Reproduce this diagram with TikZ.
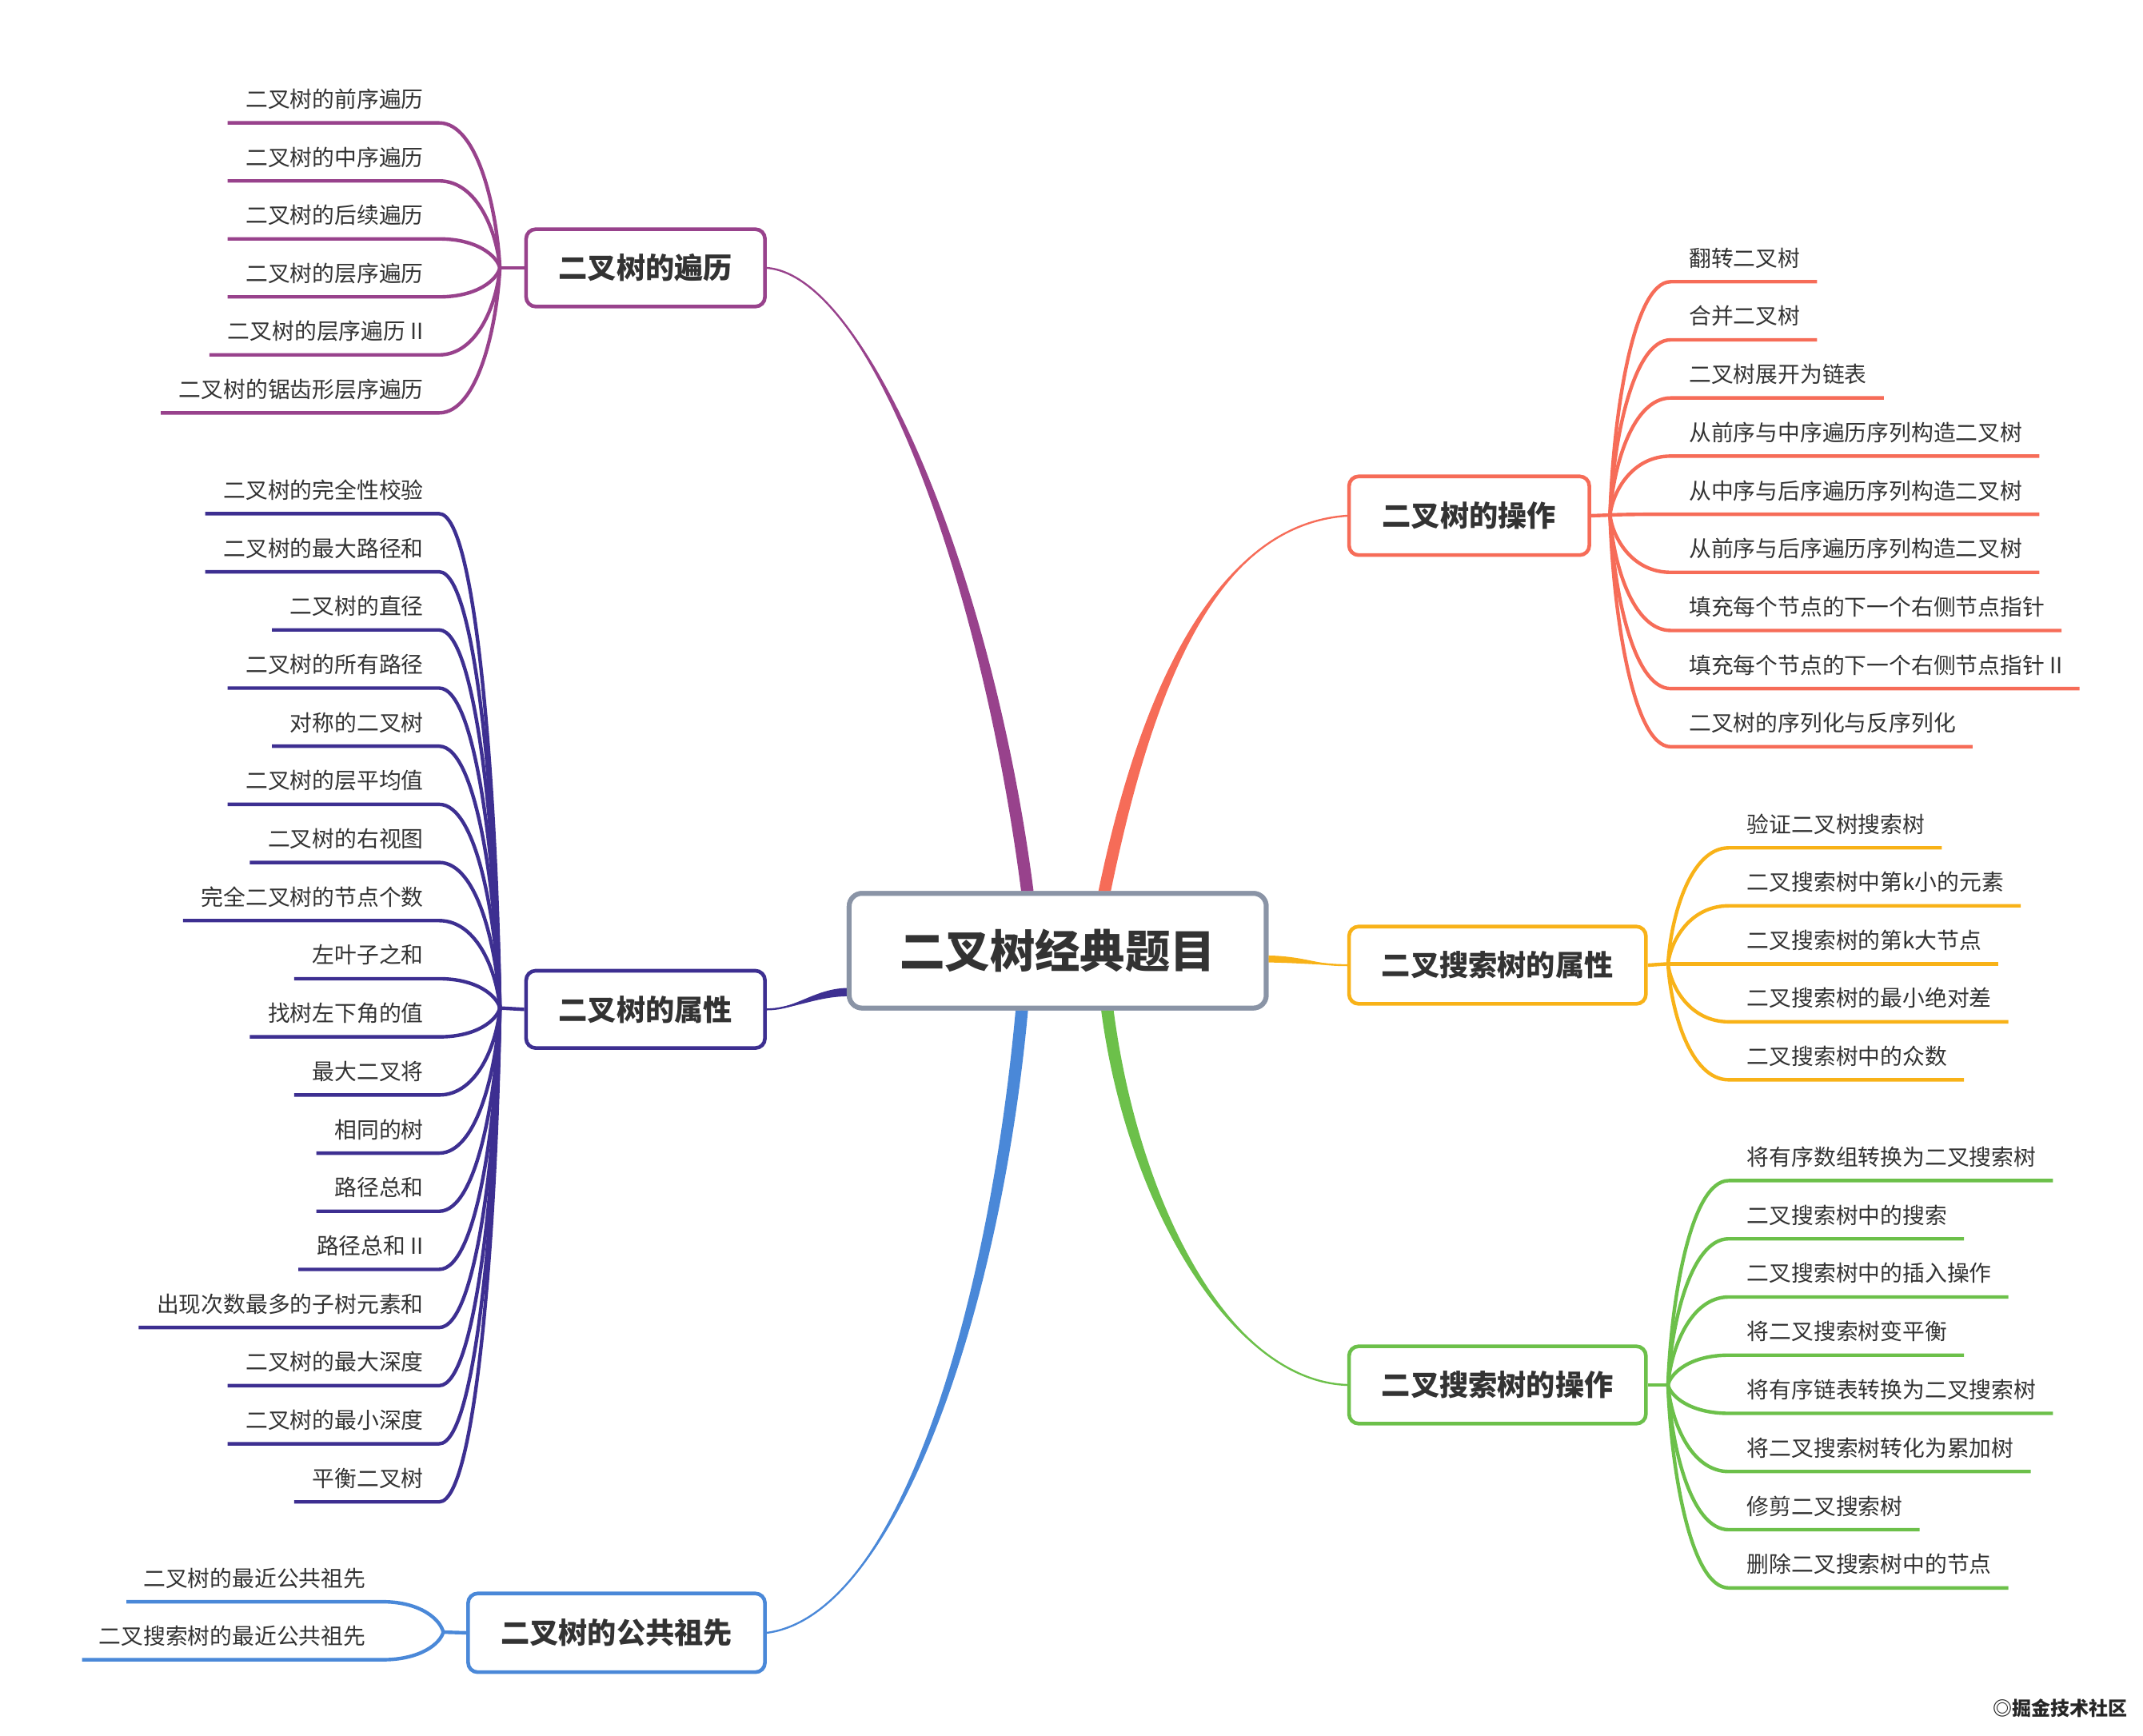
\documentclass[tikz,border=0pt]{standalone}
\usepackage{fontspec}
\setmainfont{Noto Sans CJK SC}
\usetikzlibrary{calc}
\definecolor{cPur}{RGB}{152,66,140}
\definecolor{cNav}{RGB}{61,47,145}
\definecolor{cBlu}{RGB}{74,136,216}
\definecolor{cCor}{RGB}{246,108,88}
\definecolor{cAmb}{RGB}{248,178,24}
\definecolor{cGrn}{RGB}{108,192,74}
\definecolor{cRoot}{RGB}{138,148,166}
\definecolor{txt}{RGB}{51,51,51}
\def\myu{0.8635pt}
\tikzset{
  leaf/.style={font=\fontsize{13.9}{16}\selectfont, text=txt, inner sep=0pt},
  topic/.style={draw=#1, line width=2.3pt, rounded corners=6pt, fill=white,
    font=\fontsize{18.1}{22}\selectfont\bfseries, text=txt, inner sep=0pt},
  leafline/.style={draw=#1, line width=2.2pt},
}
\newcommand\taper[6]{%
  \fill[#1] ($(#2)+(#3)$) .. controls ($#4+(#3)$) and #5 .. (#6)
     .. controls #5 and ($#4-(#3)$) .. ($(#2)-(#3)$) -- cycle;
  \draw[#1, line width=1.2pt] (#2) .. controls #4 and #5 .. (#6);
}
\begin{document}
\begin{tikzpicture}[x=0.8635pt, y=-0.8635pt]
\useasboundingbox (0,0) rectangle (1552,1257);

% root
\node[draw=cRoot, line width=3pt, rounded corners=8pt, fill=white, inner sep=0pt,
  minimum width=302*\myu, minimum height=83*\myu,
  font=\fontsize{28.2}{32}\selectfont\bfseries, text=txt] (root) at (766,688.5) {二叉树经典题目};

% topic boxes
\node[topic=cPur, minimum width=173*\myu, minimum height=56*\myu] (t1) at (467.5,194) {二叉树的遍历};
\node[topic=cNav, minimum width=173*\myu, minimum height=56*\myu] (t2) at (467.5,731) {二叉树的属性};
\node[topic=cBlu, minimum width=215*\myu, minimum height=57*\myu] (t3) at (446.5,1182.5) {二叉树的公共祖先};
\node[topic=cCor, minimum width=174*\myu, minimum height=57*\myu] (t4) at (1064,373.5) {二叉树的操作};
\node[topic=cAmb, minimum width=215*\myu, minimum height=56*\myu] (t5) at (1084.5,699) {二叉搜索树的属性};
\node[topic=cGrn, minimum width=215*\myu, minimum height=56*\myu] (t6) at (1084.5,1003) {二叉搜索树的操作};

% main tapered connectors
\coordinate (a1) at ($(root.north)+(-22,0)$);
\coordinate (a4) at ($(root.north)+(34,0)$);
\coordinate (a3) at ($(root.south)+(-26,0)$);
\coordinate (a6) at ($(root.south)+(36,0)$);
\coordinate (a2) at ($(root.west)+(0,30)$);
\coordinate (a5) at ($(root.east)+(0,6)$);
\begin{scope}[on background layer/.style={}]
\taper{cPur}{a1}{4.5,0}{(715,420)}{(630,200)}{t1.east}
\taper{cCor}{a4}{4.5,0}{(830,500)}{(880,380)}{t4.west}
\taper{cBlu}{a3}{4.5,0}{(720,950)}{(650,1170)}{t3.east}
\taper{cGrn}{a6}{4.5,0}{(820,870)}{(890,1000)}{t6.west}
\taper{cNav}{a2}{0,3}{(590,719)}{(575,731)}{t2.east}
\taper{cAmb}{a5}{0,2.5}{(945,695)}{(955,699)}{t5.west}
\end{scope}
\node[draw=cRoot, line width=3pt, rounded corners=8pt, fill=white, inner sep=0pt,
  minimum width=302*\myu, minimum height=83*\myu,
  font=\fontsize{28.2}{32}\selectfont\bfseries, text=txt] (rootb) at (766,688.5) {二叉树经典题目};

% ---------- purple leaves ----------
\coordinate (pJ) at (362,194);
\draw[leafline=cPur] (pJ) -- (t1.west);
\foreach \t [count=\i from 0] in {二叉树的前序遍历,二叉树的中序遍历,二叉树的后续遍历,二叉树的层序遍历,二叉树的层序遍历 II,二叉树的锯齿形层序遍历}{
  \pgfmathsetmacro\yl{89+42*\i}
  \pgfmathsetmacro\cy{194-0.4*(194-\yl)}
  \node[leaf, anchor=base east] (p\i) at (307,\yl-11) {\t};
  \draw[leafline=cPur] ($(p\i.base west)+(-13,11)$) -- ($(p\i.base east)+(11,11)$)
     .. controls +(28,0) and (360,\cy) .. (pJ);
}

% ---------- navy leaves ----------
\coordinate (nJ) at (362,730);
\draw[leafline=cNav] (nJ) -- (t2.west);
\foreach \t [count=\i from 0] in {二叉树的完全性校验,二叉树的最大路径和,二叉树的直径,二叉树的所有路径,对称的二叉树,二叉树的层平均值,二叉树的右视图,完全二叉树的节点个数,左叶子之和,找树左下角的值,最大二叉将,相同的树,路径总和,路径总和 II,出现次数最多的子树元素和,二叉树的最大深度,二叉树的最小深度,平衡二叉树}{
  \pgfmathsetmacro\yl{372+42.1*\i}
  \pgfmathsetmacro\cy{730-0.4*(730-\yl)}
  \node[leaf, anchor=base east] (n\i) at (307,\yl-11) {\t};
  \draw[leafline=cNav] ($(n\i.base west)+(-13,11)$) -- ($(n\i.base east)+(11,11)$)
     .. controls +(28,0) and (360,\cy) .. (nJ);
}

% ---------- blue leaves ----------
\coordinate (bJ) at (321,1182);
\draw[leafline=cBlu] (bJ) -- (t3.west);
\foreach \t [count=\i from 0] in {二叉树的最近公共祖先,二叉搜索树的最近公共祖先}{
  \pgfmathsetmacro\yl{1160+42*\i}
  \pgfmathsetmacro\cy{1182-0.4*(1182-\yl)}
  \node[leaf, anchor=base east] (b\i) at (265,\yl-11) {\t};
  \draw[leafline=cBlu] ($(b\i.base west)+(-12,11)$) -- ($(b\i.base east)+(12,11)$)
     .. controls +(28,0) and (319,\cy) .. (bJ);
}

% ---------- coral leaves ----------
\coordinate (oJ) at (1166,373);
\draw[leafline=cCor] (t4.east) -- (oJ);
\foreach \t [count=\i from 0] in {翻转二叉树,合并二叉树,二叉树展开为链表,从前序与中序遍历序列构造二叉树,从中序与后序遍历序列构造二叉树,从前序与后序遍历序列构造二叉树,填充每个节点的下一个右侧节点指针,填充每个节点的下一个右侧节点指针 II,二叉树的序列化与反序列化}{
  \pgfmathsetmacro\yl{204+42.1*\i}
  \pgfmathsetmacro\cy{373-0.4*(373-\yl)}
  \node[leaf, anchor=base west] (o\i) at (1223,\yl-11) {\t};
  \draw[leafline=cCor] (oJ) .. controls (1168,\cy) and +(-28,0) .. ($(o\i.base west)+(-13,11)$)
     -- ($(o\i.base east)+(12,11)$);
}

% ---------- amber leaves ----------
\coordinate (aJ) at (1208,698);
\draw[leafline=cAmb] (t5.east) -- (aJ);
\foreach \t [count=\i from 0] in {验证二叉树搜索树,二叉搜索树中第k小的元素,二叉搜索树的第k大节点,二叉搜索树的最小绝对差,二叉搜索树中的众数}{
  \pgfmathsetmacro\yl{614+42*\i}
  \pgfmathsetmacro\cy{698-0.4*(698-\yl)}
  \node[leaf, anchor=base west] (m\i) at (1265,\yl-11) {\t};
  \draw[leafline=cAmb] (aJ) .. controls (1210,\cy) and +(-28,0) .. ($(m\i.base west)+(-13,11)$)
     -- ($(m\i.base east)+(12,11)$);
}

% ---------- green leaves ----------
\coordinate (gJ) at (1208,1003);
\draw[leafline=cGrn] (t6.east) -- (gJ);
\foreach \t [count=\i from 0] in {将有序数组转换为二叉搜索树,二叉搜索树中的搜索,二叉搜索树中的插入操作,将二叉搜索树变平衡,将有序链表转换为二叉搜索树,将二叉搜索树转化为累加树,修剪二叉搜索树,删除二叉搜索树中的节点}{
  \pgfmathsetmacro\yl{855+42.14*\i}
  \pgfmathsetmacro\cy{1003-0.4*(1003-\yl)}
  \node[leaf, anchor=base west] (g\i) at (1265,\yl-11) {\t};
  \draw[leafline=cGrn] (gJ) .. controls (1210,\cy) and +(-28,0) .. ($(g\i.base west)+(-13,11)$)
     -- ($(g\i.base east)+(12,11)$);
}

% watermark
\node[anchor=east, inner sep=0pt, font=\fontsize{12}{14}\selectfont\bfseries, text=black!85] (wm) at (1541,1237) {◎掘金技术社区};
\end{tikzpicture}
\end{document}
